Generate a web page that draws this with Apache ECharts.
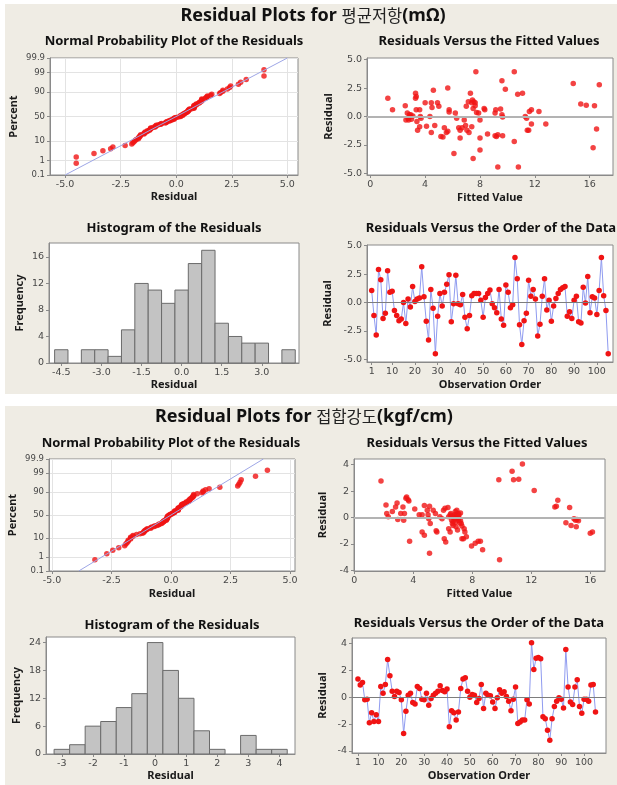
<!DOCTYPE html>
<html>
<head>
<meta charset="utf-8">
<title>Residual Plots</title>
<script src="https://cdn.jsdelivr.net/npm/echarts@6/dist/echarts.min.js"></script>
<style>
  html, body { margin: 0; padding: 0; background: #fff; }
  #chart { width: 617px; height: 785px; }
</style>
</head>
<body>
<div id="chart"></div>
<script>
// ---- data ----
// 평균저항: residuals in observation order
const resTop = [
  1.05, -1.15, -2.85, 2.9, 2.0, -1.4, -0.95, 2.8, 0.9, 1.0,
  -0.7, -1.15, -1.6, -1.45, 0.0, -1.85, 0.3, -0.4, 1.4, 0.1,
  0.3, 0.4, 3.15, 0.5, -1.65, -3.3, 1.15, -0.5, -4.5, -1.2,
  0.8, -0.3, 0.9, 1.6, 2.45, -1.7, -0.1, 2.4, -0.1, -0.2,
  0.7, -1.3, -2.3, -1.15, 0.6, 0.8, 0.8, 0.8, 0.2, -1.3,
  0.45, 0.8, 1.1, -0.1, -0.45, -0.9, 1.15, -1.45, -2.0, 1.55,
  0.9, -0.45, -0.2, 3.95, 2.1, -1.95, -3.7, -1.6, -0.95, 1.95,
  0.55, 1.15, 0.3, -2.95, -1.9, 0.55, 2.1, -0.65, 0.2, -1.65,
  -0.3, 0.35, 0.8, 1.15, 1.3, 1.4, -1.2, -0.8, -1.4, 0.2,
  0.55, -1.7, -1.8, 1.35, -0.05, 2.3, -0.9, 0.5, 0.4, -1.05,
  1.05, 3.95, 0.6, -0.7, -4.5
]
// 평균저항: fitted value / residual pairs
const fitTop = [
  [1.28, 1.6], [1.62, 0.6], [2.55, 0.95], [2.6, -0.3], [2.7, 0.3], [2.75, -0.15], [2.8, -0.3],
  [2.85, 0.15], [2.9, 0.0], [2.95, 0.15], [3.0, -0.25], [3.1, 0.05], [3.3, 2.05], [3.3, 1.6],
  [3.35, 1.75], [3.35, 0.6], [3.4, -0.45], [3.45, -1.2], [3.6, 0.6], [3.65, 0.0], [3.6, -0.9],
  [3.7, -0.15], [4.0, 1.2], [4.1, -0.85], [4.35, 0.0], [4.45, 1.2], [4.5, 0.8], [4.45, -1.4],
  [4.6, 2.3], [4.7, -0.8], [4.9, 1.2], [5.0, 0.9], [5.15, -1.75], [5.3, -1.8], [5.4, -1.0],
  [5.55, -1.4], [5.65, -1.3], [5.65, 2.5], [5.75, 0.6], [5.75, 0.4], [6.1, -3.25], [6.2, 0.3],
  [6.3, -0.15], [6.45, -1.0], [6.55, -1.2], [6.55, -1.9], [6.7, -1.0], [6.85, -0.3], [6.95, -0.8],
  [7.05, -1.2], [7.0, 0.9], [7.15, 1.3], [7.2, -1.4], [7.3, 2.05], [7.4, 1.2], [7.45, 1.45],
  [7.55, 1.3], [7.65, 1.2], [7.5, 0.7], [7.65, 0.95], [7.4, -0.9], [7.5, -3.7], [7.7, 3.95],
  [7.75, 0.35], [7.9, 0.3], [8.0, -0.3], [8.0, -1.9], [8.0, -2.95], [8.3, 0.7], [8.35, 0.6],
  [8.55, -1.55], [9.1, 0.3], [9.15, 0.6], [9.1, -1.7], [9.2, -1.75], [9.3, -1.6], [9.3, -4.45],
  [9.5, 0.65], [9.6, 0.15], [9.65, -0.05], [9.6, 3.15], [9.65, -1.7], [9.85, 2.4], [10.5, 3.95],
  [10.5, -2.2], [10.75, 1.95], [11.1, 2.05], [10.8, -4.45], [11.3, 0.0], [11.4, -0.15], [11.45, -1.2],
  [11.55, -1.2], [11.6, 0.45], [11.75, 0.6], [11.75, -0.65], [12.3, 0.45], [12.8, -0.65], [14.8, 2.9],
  [15.35, 1.1], [15.75, 1.0], [16.25, -2.75], [16.35, 0.95], [16.5, -1.1], [16.7, 2.8]
]
const histTopBins = [-4.5, -4.0, -3.5, -3.0, -2.5, -2.0, -1.5, -1.0, -0.5, 0.0, 0.5, 1.0, 1.5, 2.0, 2.5, 3.0, 3.5, 4.0]
const histTopCounts = [2, 0, 2, 2, 1, 5, 12, 11, 9, 11, 15, 17, 6, 4, 3, 3, 0, 2]
const nppLineTop = [[-5.0, 0.1], [5.0, 99.9]]

// 접합강도: residuals in observation order
const resBot = [
  1.35, 0.9, 1.1, -0.2, -0.15, -1.9, -1.15, -1.8, -1.3, -1.8,
  0.8, 0.3, 0.95, 2.8, 1.6, 0.45, 0.05, 0.45, 0.35, -0.2,
  -2.7, -1.05, 0.15, 0.3, -0.4, -0.5, 0.8, 0.65, -0.15, -0.2,
  0.3, -0.6, -0.1, 0.15, 0.3, 0.45, 0.85, 0.5, 0.4, 0.6,
  -2.2, -1.0, -1.15, -1.7, -1.1, 0.65, 1.35, 1.45, 0.45, 0.0,
  0.2, 0.15, -0.4, -0.1, 0.95, -0.85, 0.3, 0.15, 0.1, -0.35,
  -0.85, -0.05, 0.55, 0.3, 0.4, 0.05, -0.3, -1.0, -0.15, 0.75,
  -1.95, -1.85, -1.7, -1.7, -0.2, -0.5, 4.05, 2.05, 2.9, 2.95,
  2.85, -1.45, -1.6, -2.45, -3.2, -1.6, -0.7, -0.3, -0.05, -0.15,
  -0.8, 3.55, 0.75, -0.35, -0.55, 0.75, 1.3, -0.7, -1.2, -0.15,
  -0.15, -0.3, 0.9, 0.95, -1.1
]
const fitBot = [
  [1.81, 2.77], [2.15, 0.95], [2.2, 0.3], [2.3, 0.05], [2.58, 0.45], [2.8, 0.8], [2.9, 1.1],
  [2.95, -0.15], [3.15, 0.3], [3.3, 0.8], [3.35, -0.2], [3.4, 0.3], [3.5, 1.45], [3.55, 1.55],
  [3.65, 1.35], [3.7, 1.25], [3.75, -1.8], [4.1, 0.65], [4.4, 0.2], [4.6, 0.2], [4.6, -1.1],
  [4.75, -1.35], [4.75, 0.9], [4.95, 0.55], [5.0, 0.2], [5.05, -0.1], [5.1, 0.85], [5.15, -0.45],
  [5.1, -2.7], [5.35, 0.55], [5.5, 0.3], [5.55, -1.0], [5.6, -1.1], [5.8, 0.05], [5.95, -0.1],
  [6.05, 0.55], [6.15, 0.7], [6.1, -1.6], [6.2, -1.85], [6.35, 0.75], [6.4, 0.05], [6.4, -0.85],
  [6.5, 0.2], [6.5, -1.1], [6.55, 0.3], [6.6, -0.2], [6.65, -0.45], [6.7, -0.6], [6.75, 0.05],
  [6.8, 0.2], [6.9, 0.2], [6.95, -0.05], [6.85, 0.45], [6.95, 0.55], [6.9, -0.7], [7.0, -0.95],
  [7.05, 0.3], [7.1, 0.2], [7.2, 0.35], [7.05, -0.2], [7.1, -0.05], [7.2, -0.25], [7.25, -0.45],
  [7.3, -0.65], [7.3, -1.6], [7.4, -1.6], [7.45, -0.85], [7.5, -1.1], [7.6, -1.45], [6.6, 0.1],
  [6.7, -0.3], [6.8, -0.1], [7.0, 0.1], [6.85, -0.35], [7.15, -0.4], [7.95, -2.15], [8.2, -1.95],
  [8.4, -1.8], [8.55, -1.8], [8.7, -2.45], [9.8, 2.85], [9.85, -3.2], [10.7, 3.5], [10.8, 2.85],
  [11.15, 2.9], [11.4, 4.05], [12.2, 2.05], [13.6, 0.8], [13.7, 0.85], [13.8, 1.3], [14.35, -0.4],
  [14.6, 0.75], [14.7, -0.6], [14.9, -0.1], [15.0, -0.2], [15.05, -0.7], [15.1, -0.15], [15.2, -0.25],
  [16.0, -1.2], [16.15, -1.1]
]
const histBotBins = [-3.0, -2.5, -2.0, -1.5, -1.0, -0.5, 0.0, 0.5, 1.0, 1.5, 2.0, 2.5, 3.0, 3.5, 4.0]
const histBotCounts = [1, 2, 6, 7, 10, 13, 24, 18, 12, 5, 1, 0, 4, 1, 1]
const nppLineBot = [[-3.88, 0.1], [3.88, 99.9]]

// tick labels
const pctTicks = [0.1, 1, 10, 50, 90, 99, 99.9]
const resTicks5 = [-5, -2.5, 0, 2.5, 5]
const resTicks4 = [-4, -2, 0, 2, 4]
const fitTicks = [0, 4, 8, 12, 16]
const orderTicks = [1, 10, 20, 30, 40, 50, 60, 70, 80, 90, 100]
const histTopXTicks = [-4.5, -3.0, -1.5, 0.0, 1.5, 3.0]
const histTopYTicks = [0, 4, 8, 12, 16]
const histBotXTicks = [-3, -2, -1, 0, 1, 2, 3, 4]
const histBotYTicks = [0, 6, 12, 18, 24]

// ---- helpers ----
// normal quantile (Acklam), used for the probability scale
function qnorm(p) {
  const a = [-39.69683028665376, 220.9460984245205, -275.9285104469687, 138.3577518672690, -30.66479806614716, 2.506628277459239]
  const b = [-54.47609879822406, 161.5858368580409, -155.6989798598866, 66.80131188771972, -13.28068155288572]
  const c = [-0.007784894002430293, -0.3223964580411365, -2.400758277161838, -2.549671010115381, 4.374664141464968, 2.938163982698783]
  const d = [0.007784695709041462, 0.3224671290700398, 2.445134137142996, 3.754408661907416]
  const lo = 0.02425
  if (p < lo) {
    const q = Math.sqrt(-2 * Math.log(p))
    return (((((c[0] * q + c[1]) * q + c[2]) * q + c[3]) * q + c[4]) * q + c[5]) / ((((d[0] * q + d[1]) * q + d[2]) * q + d[3]) * q + 1)
  }
  if (p > 1 - lo) return -qnorm(1 - p)
  const q = p - 0.5, r = q * q
  return (((((a[0] * r + a[1]) * r + a[2]) * r + a[3]) * r + a[4]) * r + a[5]) * q / (((((b[0] * r + b[1]) * r + b[2]) * r + b[3]) * r + b[4]) * r + 1)
}
const zTicks = pctTicks.map(p => qnorm(p / 100))
const zMin = zTicks[0], zMax = zTicks[zTicks.length - 1]

const RED = '#f01414'
const FRAME = '#8a8a8a'
const TICK_FONT = 'DejaVu Sans'
const BOLD_FONT = 'Noto Sans'

const nppPoints = (res) => {
  const s = res.slice().sort((x, y) => x - y)
  const n = s.length
  return s.map((v, i) => [v, qnorm((i + 1 - 0.3) / (n + 0.4))])
}

const axis = (gi, min, max, ticks, fmt, name, gap, extra) => Object.assign({
  type: 'value', gridIndex: gi, min, max,
  axisLine: {show: true, onZero: false, lineStyle: {color: FRAME}},
  axisTick: {show: true, length: 3, customValues: ticks, lineStyle: {color: FRAME}},
  axisLabel: {customValues: ticks, formatter: fmt, color: '#474747', fontFamily: TICK_FONT, fontSize: 9.5, margin: 5},
  splitLine: {show: false},
  name, nameLocation: 'middle', nameGap: gap,
  nameTextStyle: {fontFamily: BOLD_FONT, fontWeight: 'bold', fontSize: 11, color: '#1a1a1a'}
}, extra || {})

const f1 = v => v.toFixed(1)
const f0 = v => String(Math.round(v))
const fPct = v => {
  let k = 0
  zTicks.forEach((z, i) => { if (Math.abs(z - v) < Math.abs(zTicks[k] - v)) k = i })
  return String(pctTicks[k])
}
const nppSplit = {show: true, lineStyle: {color: '#e3e3e3', width: 1}}
const pctLabel = {customValues: zTicks, formatter: fPct, color: '#474747', fontFamily: TICK_FONT, fontSize: 8.5, margin: 5}

const histSeries = (gi, bins, counts) => ({
  type: 'custom', xAxisIndex: gi, yAxisIndex: gi, silent: true,
  data: bins.map((c, i) => [c, counts[i]]),
  renderItem: (params, api) => {
    const c = api.value(0), n = api.value(1)
    if (!n) return
    const p0 = api.coord([c - 0.25, 0])
    const p1 = api.coord([c + 0.25, n])
    return {
      type: 'rect',
      shape: {x: p0[0], y: p1[1], width: p1[0] - p0[0], height: p0[1] - p1[1]},
      style: {fill: '#c3c3c3', stroke: '#6b6b6b', lineWidth: 1}
    }
  }
})
const scatterSeries = (gi, data) => ({
  type: 'scatter', xAxisIndex: gi, yAxisIndex: gi, data, symbolSize: 5.5,
  itemStyle: {color: RED}, silent: true
})
const lineRef = (gi, pts) => ({
  type: 'line', xAxisIndex: gi, yAxisIndex: gi, symbol: 'none', silent: true,
  data: pts.map(([x, p]) => [x, qnorm(p / 100)]),
  lineStyle: {color: '#9ea6e6', width: 1}
})
const zeroLine = (color, width) => ({
  silent: true, symbol: 'none', label: {show: false},
  lineStyle: {color, width, type: 'solid'}, data: [{yAxis: 0}]
})
const orderSeries = (gi, res) => ({
  type: 'line', xAxisIndex: gi, yAxisIndex: gi, silent: true,
  data: res.map((v, i) => [i + 1, v]),
  symbol: 'circle', symbolSize: 5.5, showSymbol: true,
  itemStyle: {color: RED}, lineStyle: {color: '#8f9bf0', width: 1},
  markLine: zeroLine('#7d7d7d', 1)
})

const sub = (text, x, y) => ({
  text, left: x, top: y, textAlign: 'center', textVerticalAlign: 'middle', padding: 0,
  textStyle: {fontFamily: BOLD_FONT, fontWeight: 'bold', fontSize: 13, color: '#111'}
})
const mainTitle = (name, unit, x, y) => ({
  text: '{b|Residual Plots for }{k|' + name + '}{b|' + unit + '}',
  left: x, top: y, textAlign: 'center', textVerticalAlign: 'middle', padding: 0,
  textStyle: {
    rich: {
      b: {fontFamily: BOLD_FONT, fontWeight: 'bold', fontSize: 18, color: '#111'},
      k: {fontFamily: 'Noto Sans CJK KR', fontWeight: 'normal', fontSize: 16.5, color: '#222'}
    }
  }
})

const gridBox = (left, top, width, height) => ({
  left, top, width, height, show: true, backgroundColor: '#fff', borderColor: FRAME, borderWidth: 1
})

const chart = echarts.init(document.getElementById('chart'))
chart.setOption({
  animation: false,
  backgroundColor: '#fff',
  graphic: [
    {type: 'rect', z: -10, silent: true, shape: {x: 5, y: 4, width: 612, height: 390}, style: {fill: '#efece4'}},
    {type: 'rect', z: -10, silent: true, shape: {x: 5, y: 406, width: 612, height: 379}, style: {fill: '#efece4'}}
  ],
  title: [
    mainTitle('평균저항', '(mΩ)', 313, 16),
    sub('Normal Probability Plot of the Residuals', 174, 41),
    sub('Residuals Versus the Fitted Values', 489, 41),
    sub('Histogram of the Residuals', 174, 228),
    sub('Residuals Versus the Order of the Data', 491, 228),
    mainTitle('접합강도', '(kgf/cm)', 304, 417),
    sub('Normal Probability Plot of the Residuals', 171, 443),
    sub('Residuals Versus the Fitted Values', 477, 443),
    sub('Histogram of the Residuals', 172, 625),
    sub('Residuals Versus the Order of the Data', 479, 623)
  ],
  grid: [
    gridBox(50, 58, 248, 117),
    gridBox(367, 58, 246, 117),
    gridBox(49, 243, 250, 120),
    gridBox(367, 245, 246, 117),
    gridBox(49, 459, 246, 112),
    gridBox(354, 459, 251, 112),
    gridBox(46, 637, 249, 117),
    gridBox(352, 638, 254, 115)
  ],
  xAxis: [
    axis(0, -5.68, 5.48, resTicks5, f1, 'Residual', 16, {splitLine: nppSplit}),
    axis(1, -0.24, 17.7, fitTicks, f0, 'Fitted Value', 17),
    axis(2, -4.96, 4.39, histTopXTicks, f1, 'Residual', 16),
    axis(3, -1.06, 107.1, orderTicks, f0, 'Observation Order', 17),
    axis(4, -5.13, 5.21, resTicks5, f1, 'Residual', 17, {splitLine: nppSplit}),
    axis(5, -0.02, 17.0, fitTicks, f0, 'Fitted Value', 17),
    axis(6, -3.51, 4.5, histBotXTicks, f0, 'Residual', 15),
    axis(7, -1.6, 109.6, orderTicks, f0, 'Observation Order', 17)
  ],
  yAxis: [
    axis(0, zMin, zMax, zTicks, fPct, 'Percent', 31, {splitLine: nppSplit, axisLabel: pctLabel}),
    axis(1, -5.15, 5.15, resTicks5, f1, 'Residual', 33),
    axis(2, 0, 18.1, histTopYTicks, f0, 'Frequency', 24),
    axis(3, -5.23, 5.06, resTicks5, f1, 'Residual', 34),
    axis(4, zMin, zMax, zTicks, fPct, 'Percent', 31, {splitLine: nppSplit, axisLabel: pctLabel}),
    axis(5, -4.05, 4.43, resTicks4, f0, 'Residual', 26),
    axis(6, 0, 25.2, histBotYTicks, f0, 'Frequency', 24),
    axis(7, -4.15, 4.4, resTicks4, f0, 'Residual', 24)
  ],
  series: [
    lineRef(0, nppLineTop),
    scatterSeries(0, nppPoints(resTop)),
    Object.assign(scatterSeries(1, fitTop), {markLine: zeroLine('#b3b3b3', 2)}),
    histSeries(2, histTopBins, histTopCounts),
    orderSeries(3, resTop),
    lineRef(4, nppLineBot),
    scatterSeries(4, nppPoints(resBot)),
    Object.assign(scatterSeries(5, fitBot), {markLine: zeroLine('#b3b3b3', 2)}),
    histSeries(6, histBotBins, histBotCounts),
    orderSeries(7, resBot)
  ]
})
</script>
</body>
</html>
